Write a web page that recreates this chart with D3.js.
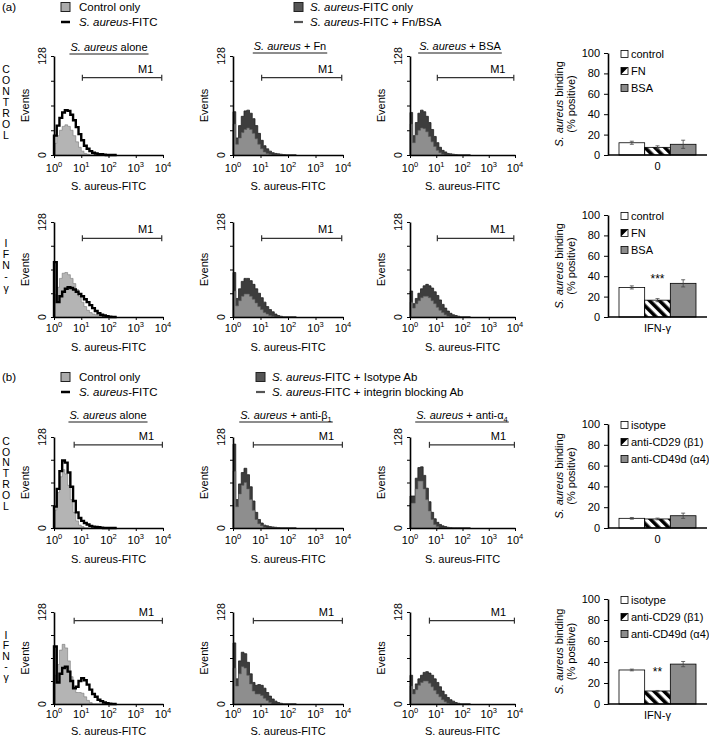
<!DOCTYPE html>
<html>
<head>
<meta charset="utf-8">
<script src="https://cdn.jsdelivr.net/npm/d3@7"></script>
<style>
body { margin: 0; background: #fff; }
svg { font-family: "Liberation Sans", Arial, Helvetica, sans-serif; }
</style>
</head>
<body>
<svg id="fig" width="709" height="739"></svg>
<script>
// log10 position of each histogram bin (FL1 channel)
const logBins = [0.0, 0.1, 0.2, 0.3, 0.4, 0.5, 0.6, 0.7, 0.8, 0.9, 1.0, 1.1,
                 1.2, 1.3, 1.4, 1.5, 1.6, 1.7, 1.8, 1.9, 2.0, 2.1, 2.2, 2.3];

// (a) control row - events per bin
const aAloneCtrl  = [15, 25, 32, 37, 39, 37, 32, 25, 17, 10, 5, 2, 1, 0, 0, 0, 0, 0, 0, 0, 0, 0, 0, 0];
const aAloneFitc  = [25, 38, 48, 55, 58, 57, 52, 45, 36, 27, 19, 12, 8, 5, 3, 2, 1, 1, 0.5, 0, 0, 0, 0, 0];
const aFnOnly     = [56, 22, 38, 50, 57, 58, 54, 47, 38, 28, 19, 12, 8, 5, 3, 2, 1.5, 1, 0.5, 0, 0, 0, 0, 0];
const aFnTreat    = [40, 14, 22, 29, 33, 35, 33, 28, 21, 14, 8, 4, 2, 1, 0, 0, 0, 0, 0, 0, 0, 0, 0, 0];
const aBsaOnly    = [55, 25, 42, 54, 58, 56, 50, 42, 33, 24, 16, 10, 6, 4, 2, 1.5, 1, 0.5, 0, 0, 0, 0, 0, 0];
const aBsaTreat   = [40, 16, 26, 32, 35, 34, 30, 24, 17, 11, 6, 3, 1, 0, 0, 0, 0, 0, 0, 0, 0, 0, 0, 0];
// (a) IFN-gamma row
const aIfnAloneCtrl = [30, 40, 52, 59, 60, 57, 52, 45, 37, 28, 20, 14, 9, 6, 4, 3, 2, 1, 0.5, 0, 0, 0, 0, 0];
const aIfnAloneFitc = [74, 20, 28, 34, 38, 40, 39, 37, 34, 31, 28, 24, 20, 16, 12, 8, 5, 3, 2, 1, 0.5, 0, 0, 0];
const aIfnFnOnly    = [60, 25, 38, 48, 52, 52, 49, 44, 38, 32, 26, 20, 14, 10, 7, 4, 2, 1, 0, 0, 0, 0, 0, 0];
const aIfnFnTreat   = [35, 15, 22, 28, 31, 31, 28, 24, 19, 14, 10, 6, 4, 2, 1, 0, 0, 0, 0, 0, 0, 0, 0, 0];
const aIfnBsaOnly   = [35, 18, 25, 32, 38, 42, 44, 42, 39, 34, 29, 23, 17, 12, 8, 5, 3, 2, 1, 0, 0, 0, 0, 0];
const aIfnBsaTreat  = [20, 12, 18, 22, 26, 28, 28, 26, 22, 18, 13, 9, 6, 3, 1, 0, 0, 0, 0, 0, 0, 0, 0, 0];
// (b) control row
const bAloneCtrl   = [25, 50, 72, 82, 76, 60, 40, 22, 10, 4, 2, 0, 0, 0, 0, 0, 0, 0, 0, 0, 0, 0, 0, 0];
const bAloneFitc   = [30, 55, 80, 95, 92, 78, 58, 38, 22, 14, 10, 7, 5, 3, 2, 1.5, 1, 0.5, 0, 0, 0, 0, 0, 0];
const bBeta1Only   = [118, 40, 62, 78, 84, 75, 58, 38, 22, 12, 7, 4, 3, 2, 1.5, 1, 0.5, 0, 0, 0, 0, 0, 0, 0];
const bBeta1Treat  = [80, 30, 48, 60, 64, 55, 40, 25, 12, 6, 3, 1, 0, 0, 0, 0, 0, 0, 0, 0, 0, 0, 0, 0];
const bAlpha4Only  = [45, 45, 70, 85, 86, 74, 56, 37, 22, 13, 8, 5, 3, 2, 1, 0.5, 0, 0, 0, 0, 0, 0, 0, 0];
const bAlpha4Treat = [35, 35, 55, 66, 66, 55, 40, 24, 12, 5, 2, 0, 0, 0, 0, 0, 0, 0, 0, 0, 0, 0, 0, 0];
// (b) IFN-gamma row
const bIfnAloneCtrl  = [40, 55, 75, 83, 78, 60, 38, 22, 16, 16, 15, 10, 5, 2, 0, 0, 0, 0, 0, 0, 0, 0, 0, 0];
const bIfnAloneFitc  = [80, 30, 42, 50, 52, 45, 32, 22, 24, 32, 36, 33, 27, 20, 14, 10, 6, 4, 2, 1, 0.5, 0, 0, 0];
const bIfnBeta1Only  = [85, 35, 60, 72, 70, 58, 42, 30, 26, 27, 26, 22, 16, 11, 7, 4, 2, 1, 0, 0, 0, 0, 0, 0];
const bIfnBeta1Treat = [50, 25, 42, 52, 50, 40, 28, 18, 14, 14, 12, 8, 5, 2, 0, 0, 0, 0, 0, 0, 0, 0, 0, 0];
const bIfnAlpha4Only  = [40, 20, 28, 35, 40, 44, 45, 43, 40, 35, 30, 24, 18, 13, 9, 6, 4, 2, 1, 0, 0, 0, 0, 0];
const bIfnAlpha4Treat = [25, 14, 20, 26, 30, 32, 32, 29, 24, 19, 14, 10, 6, 3, 1, 0, 0, 0, 0, 0, 0, 0, 0, 0];

const xTicks = [1, 10, 100, 1000, 10000];
const xTickExp = ["0", "1", "2", "3", "4"];
const eventTicks = [0, 32, 64, 96, 128];
const m1A = [11, 9000];
const m1B = [5.5, 9500];

// bar charts: % positive binding
const barCatsA = ["control", "FN", "BSA"];
const barCatsB = ["isotype", "anti-CD29 (β1)", "anti-CD49d (α4)"];
const aCtrlBinding = [12, 7.5, 10.5];
const aCtrlErr     = [1.5, 1.5, 4];
const aIfnBinding  = [29, 16.5, 33];
const aIfnErr      = [1.5, 1.5, 3.5];
const bCtrlBinding = [9.3, 8.7, 11.8];
const bCtrlErr     = [0.8, 0.8, 2.5];
const bIfnBinding  = [32.4, 12.4, 38];
const bIfnErr      = [0.8, 0.5, 2.5];
const barTicks = [0, 20, 40, 60, 80, 100];

const svg = d3.select('#fig');

// hatch for the FN / anti-CD29 bars
const defs = svg.append('defs');
defs.append('pattern')
    .attr('id', 'hatch')
    .attr('patternUnits', 'userSpaceOnUse')
    .attr('width', 7).attr('height', 7)
    .attr('patternTransform', 'rotate(-45)')
    .append('rect')
    .attr('width', 3.6).attr('height', 7)
    .attr('fill', '#000');

const cols = [{ x0: 54, x1: 163 }, { x0: 233, x1: 343 }, { x0: 410, x1: 515 }];
// tickY / labY = baselines of the decade labels and of the axis title
const rows = [
    { top: 56, bottom: 155, m1Level: 100, tickY: 172, labY: 190 },
    { top: 222, bottom: 317, m1Level: 106, tickY: 332, labY: 351 },
    { top: 437, bottom: 528, m1Level: 117, tickY: 544, labY: 563 },
    { top: 612, bottom: 704, m1Level: 116, tickY: 718, labY: 735 }
];

function vertLetters(str, x, y0, step) {
    str.split('').forEach((ch, i) => {
        svg.append('text')
            .attr('x', x).attr('y', y0 + i * step)
            .attr('text-anchor', 'middle')
            .attr('dominant-baseline', 'middle')
            .attr('font-size', 10.5)
            .text(ch);
    });
}

function drawTitle(cx, y, rest, sub) {
    const t = svg.append('text')
        .attr('x', cx).attr('y', y)
        .attr('text-anchor', 'middle')
        .attr('font-size', 11);
    t.append('tspan').attr('font-style', 'italic').text('S. aureus');
    t.append('tspan').text(rest);
    if (sub) t.append('tspan').attr('font-size', 7.5).attr('dy', 3).text(sub);
    const w = t.node().getComputedTextLength();
    svg.append('line')
        .attr('x1', cx - w / 2 - 1).attr('x2', cx + w / 2 + 1)
        .attr('y1', y + 3).attr('y2', y + 3)
        .attr('stroke', '#000').attr('stroke-width', 0.9);
}

function drawHist(col, row, s1, s2, kind, m1) {
    const g = svg.append('g');
    const x = d3.scaleLog().domain([1, 1e4]).range([col.x0, col.x1]);
    const y = d3.scaleLinear().domain([0, 128]).range([row.bottom, row.top]);
    const pts = arr => [[1, 0]].concat(arr.map((v, i) => [Math.pow(10, logBins[i]), v]));
    const area = d3.area().x(d => x(d[0])).y0(y(0)).y1(d => y(d[1])).curve(d3.curveStepAfter);
    const line = d3.line().x(d => x(d[0])).y(d => y(d[1])).curve(d3.curveStepAfter);

    if (kind === 'alone') {
        g.append('path').datum(pts(s1)).attr('d', area)
            .attr('fill', '#b4b4b4').attr('stroke', '#777').attr('stroke-width', 0.6);
        g.append('path').datum(pts(s2)).attr('d', line)
            .attr('fill', 'none').attr('stroke', '#000').attr('stroke-width', 2.4);
    } else {
        g.append('path').datum(pts(s1)).attr('d', area)
            .attr('fill', '#3d3d3d').attr('stroke', '#222').attr('stroke-width', 0.8);
        g.append('path').datum(pts(s2)).attr('d', area)
            .attr('fill', '#8e8e8e').attr('stroke', '#5a5a5a').attr('stroke-width', 0.6);
    }

    const xa = g.append('g').attr('transform', `translate(0,${row.bottom})`)
        .call(d3.axisBottom(x).tickValues(xTicks).tickFormat('').tickSize(3).tickSizeOuter(0));
    const ya = g.append('g').attr('transform', `translate(${col.x0},0)`)
        .call(d3.axisLeft(y).tickValues(eventTicks).tickFormat('').tickSize(3).tickSizeOuter(0));
    [xa, ya].forEach(a => {
        a.select('.domain').attr('stroke-width', 1.6);
        a.selectAll('.tick line').attr('stroke-width', 1);
    });

    xTicks.forEach((t, i) => {
        const tx = g.append('text')
            .attr('x', x(t)).attr('y', row.tickY)
            .attr('text-anchor', 'middle')
            .attr('font-size', 11);
        tx.append('tspan').text('10');
        tx.append('tspan').attr('font-size', 7.5).attr('dy', -5).text(xTickExp[i]);
    });
    g.append('text')
        .attr('x', (col.x0 + col.x1) / 2).attr('y', row.labY)
        .attr('text-anchor', 'middle').attr('font-size', 11)
        .text('S. aureus-FITC');

    [[128, '128'], [0, '0']].forEach(([v, lab]) => {
        g.append('text')
            .attr('transform', `translate(${col.x0 - 8},${y(v)}) rotate(-90)`)
            .attr('text-anchor', 'middle').attr('font-size', 10.5)
            .text(lab);
    });
    g.append('text')
        .attr('transform', `translate(${col.x0 - 25},${(row.top + row.bottom) / 2}) rotate(-90)`)
        .attr('text-anchor', 'middle').attr('font-size', 11)
        .text('Events');

    // M1 gate marker
    const my = y(row.m1Level);
    g.append('line').attr('x1', x(m1[0])).attr('x2', x(m1[1]))
        .attr('y1', my).attr('y2', my).attr('stroke', '#333').attr('stroke-width', 1.2);
    m1.forEach(v => {
        g.append('line').attr('x1', x(v)).attr('x2', x(v))
            .attr('y1', my - 3).attr('y2', my + 3)
            .attr('stroke', '#333').attr('stroke-width', 1.2);
    });
    g.append('text')
        .attr('x', x(m1[1]) - 16).attr('y', my - 5)
        .attr('text-anchor', 'middle').attr('font-size', 11)
        .text('M1');
}

function drawBars(top, bottom, cats, vals, errs, catLabel, sig) {
    const g = svg.append('g');
    const x0 = 608, x1 = 707;
    const x = d3.scaleBand().domain(cats).range([619, 696]).padding(0);
    const y = d3.scaleLinear().domain([0, 100]).range([bottom, top]);
    const fills = ['#fff', 'url(#hatch)', '#8c8c8c'];

    g.selectAll('rect.bar')
        .data(cats)
        .enter()
        .append('rect')
        .attr('class', 'bar')
        .attr('x', d => x(d))
        .attr('y', (d, i) => y(vals[i]))
        .attr('width', x.bandwidth())
        .attr('height', (d, i) => y(0) - y(vals[i]))
        .attr('fill', (d, i) => fills[i])
        .attr('stroke', '#000')
        .attr('stroke-width', 0.8);

    cats.forEach((c, i) => {
        const cx = x(c) + x.bandwidth() / 2;
        const ya = y(vals[i] + errs[i]), yb = y(vals[i] - errs[i]);
        g.append('line').attr('x1', cx).attr('x2', cx).attr('y1', ya).attr('y2', yb)
            .attr('stroke', '#444').attr('stroke-width', 0.8);
        [ya, yb].forEach(yy => {
            g.append('line').attr('x1', cx - 2).attr('x2', cx + 2).attr('y1', yy).attr('y2', yy)
                .attr('stroke', '#444').attr('stroke-width', 0.8);
        });
    });

    const ya = g.append('g').attr('transform', `translate(${x0},0)`)
        .call(d3.axisLeft(y).tickValues(barTicks).tickSize(4).tickSizeOuter(0));
    ya.select('.domain').attr('stroke-width', 1.6);
    ya.selectAll('.tick text').attr('font-size', 11).attr('font-family', 'inherit').attr('dx', -1);
    g.append('line').attr('x1', x0).attr('x2', x1).attr('y1', bottom).attr('y2', bottom)
        .attr('stroke', '#000').attr('stroke-width', 1.6);

    g.append('text')
        .attr('x', (619 + 696) / 2).attr('y', bottom + 15)
        .attr('text-anchor', 'middle').attr('font-size', 11)
        .text(catLabel);

    const yl = g.append('text')
        .attr('transform', `translate(563,${(top + bottom) / 2}) rotate(-90)`)
        .attr('text-anchor', 'middle').attr('font-size', 11);
    yl.append('tspan').attr('font-style', 'italic').text('S. aureus');
    yl.append('tspan').text(' binding');
    g.append('text')
        .attr('transform', `translate(575,${(top + bottom) / 2}) rotate(-90)`)
        .attr('text-anchor', 'middle').attr('font-size', 11)
        .text('(% positive)');

    // legend
    cats.forEach((c, i) => {
        const ly = top + 1 + i * 17;
        if (i === 1) {
            g.append('rect').attr('x', 621).attr('y', ly - 3.5).attr('width', 7).attr('height', 7)
                .attr('fill', '#fff').attr('stroke', '#000').attr('stroke-width', 0.8);
            g.append('path')
                .attr('d', `M621,${ly - 3.5}L628,${ly - 3.5}L621,${ly + 3.5}Z`)
                .attr('fill', '#000');
        } else {
            g.append('rect').attr('x', 621).attr('y', ly - 3.5).attr('width', 7).attr('height', 7)
                .attr('fill', fills[i]).attr('stroke', '#000').attr('stroke-width', 0.8);
        }
        g.append('text').attr('x', 631).attr('y', ly + 4)
            .attr('font-size', 11).text(c);
    });

    if (sig) {
        g.append('text')
            .attr('x', x(cats[1]) + x.bandwidth() / 2).attr('y', y(sig.at) + 5)
            .attr('text-anchor', 'middle').attr('font-size', 12)
            .text(sig.label);
    }
}

function drawLegend(y, rightX, rightTexts, leftTexts) {
    // left block
    svg.append('rect').attr('x', 61).attr('y', y - 4.5).attr('width', 9).attr('height', 9)
        .attr('fill', '#aaa').attr('stroke', '#222').attr('stroke-width', 1);
    svg.append('text').attr('x', 79).attr('y', y + 4).attr('font-size', 11.5).text(leftTexts[0]);
    svg.append('line').attr('x1', 61).attr('x2', 70).attr('y1', y + 15).attr('y2', y + 15)
        .attr('stroke', '#000').attr('stroke-width', 2.5);
    const t2 = svg.append('text').attr('x', 79).attr('y', y + 19).attr('font-size', 11.5);
    t2.append('tspan').attr('font-style', 'italic').text('S. aureus');
    t2.append('tspan').text('-FITC');
    // right block
    svg.append('rect').attr('x', rightX).attr('y', y - 4.5).attr('width', 9).attr('height', 9)
        .attr('fill', '#555').attr('stroke', '#222').attr('stroke-width', 1);
    const t3 = svg.append('text').attr('x', rightX + 16).attr('y', y + 4).attr('font-size', 11.5);
    t3.append('tspan').attr('font-style', 'italic').text('S. aureus');
    t3.append('tspan').text(rightTexts[0]);
    svg.append('line').attr('x1', rightX).attr('x2', rightX + 9).attr('y1', y + 15).attr('y2', y + 15)
        .attr('stroke', '#555').attr('stroke-width', 2.2);
    const t4 = svg.append('text').attr('x', rightX + 16).attr('y', y + 19).attr('font-size', 11.5);
    t4.append('tspan').attr('font-style', 'italic').text('S. aureus');
    t4.append('tspan').text(rightTexts[1]);
}

// ---------- panel (a) ----------
svg.append('text').attr('x', 2).attr('y', 11).attr('font-size', 11.5).text('(a)');
drawLegend(7, 294, ['-FITC only', '-FITC + Fn/BSA'], ['Control only']);

drawTitle(109, 51, ' alone');
drawTitle(290, 50, ' + Fn');
drawTitle(460, 50, ' + BSA');

vertLetters('CONTROL', 6, 70, 11.1);
vertLetters('IFN-γ', 6, 244, 11.2);

drawHist(cols[0], rows[0], aAloneCtrl, aAloneFitc, 'alone', m1A);
drawHist(cols[1], rows[0], aFnOnly, aFnTreat, 'treated', m1A);
drawHist(cols[2], rows[0], aBsaOnly, aBsaTreat, 'treated', m1A);
drawHist(cols[0], rows[1], aIfnAloneCtrl, aIfnAloneFitc, 'alone', m1A);
drawHist(cols[1], rows[1], aIfnFnOnly, aIfnFnTreat, 'treated', m1A);
drawHist(cols[2], rows[1], aIfnBsaOnly, aIfnBsaTreat, 'treated', m1A);

drawBars(53, 155, barCatsA, aCtrlBinding, aCtrlErr, '0', null);
drawBars(215, 317, barCatsA, aIfnBinding, aIfnErr, 'IFN-γ', { label: '***', at: 38 });

// ---------- panel (b) ----------
svg.append('text').attr('x', 2).attr('y', 381).attr('font-size', 11.5).text('(b)');
drawLegend(377, 256, ['-FITC + Isotype Ab', '-FITC + integrin blocking Ab'], ['Control only']);

drawTitle(108, 419, ' alone');
drawTitle(286, 419, ' + anti-β', '1');
drawTitle(462, 419, ' + anti-α', '4');

vertLetters('CONTROL', 6, 442, 10.8);
vertLetters('IFN-γ', 6, 636, 10.5);

drawHist(cols[0], rows[2], bAloneCtrl, bAloneFitc, 'alone', m1B);
drawHist(cols[1], rows[2], bBeta1Only, bBeta1Treat, 'treated', m1B);
drawHist(cols[2], rows[2], bAlpha4Only, bAlpha4Treat, 'treated', m1B);
drawHist(cols[0], rows[3], bIfnAloneCtrl, bIfnAloneFitc, 'alone', m1B);
drawHist(cols[1], rows[3], bIfnBeta1Only, bIfnBeta1Treat, 'treated', m1B);
drawHist(cols[2], rows[3], bIfnAlpha4Only, bIfnAlpha4Treat, 'treated', m1B);

drawBars(424, 528, barCatsB, bCtrlBinding, bCtrlErr, '0', null);
drawBars(599, 704, barCatsB, bIfnBinding, bIfnErr, 'IFN-γ', { label: '**', at: 31 });
</script>
</body>
</html>
